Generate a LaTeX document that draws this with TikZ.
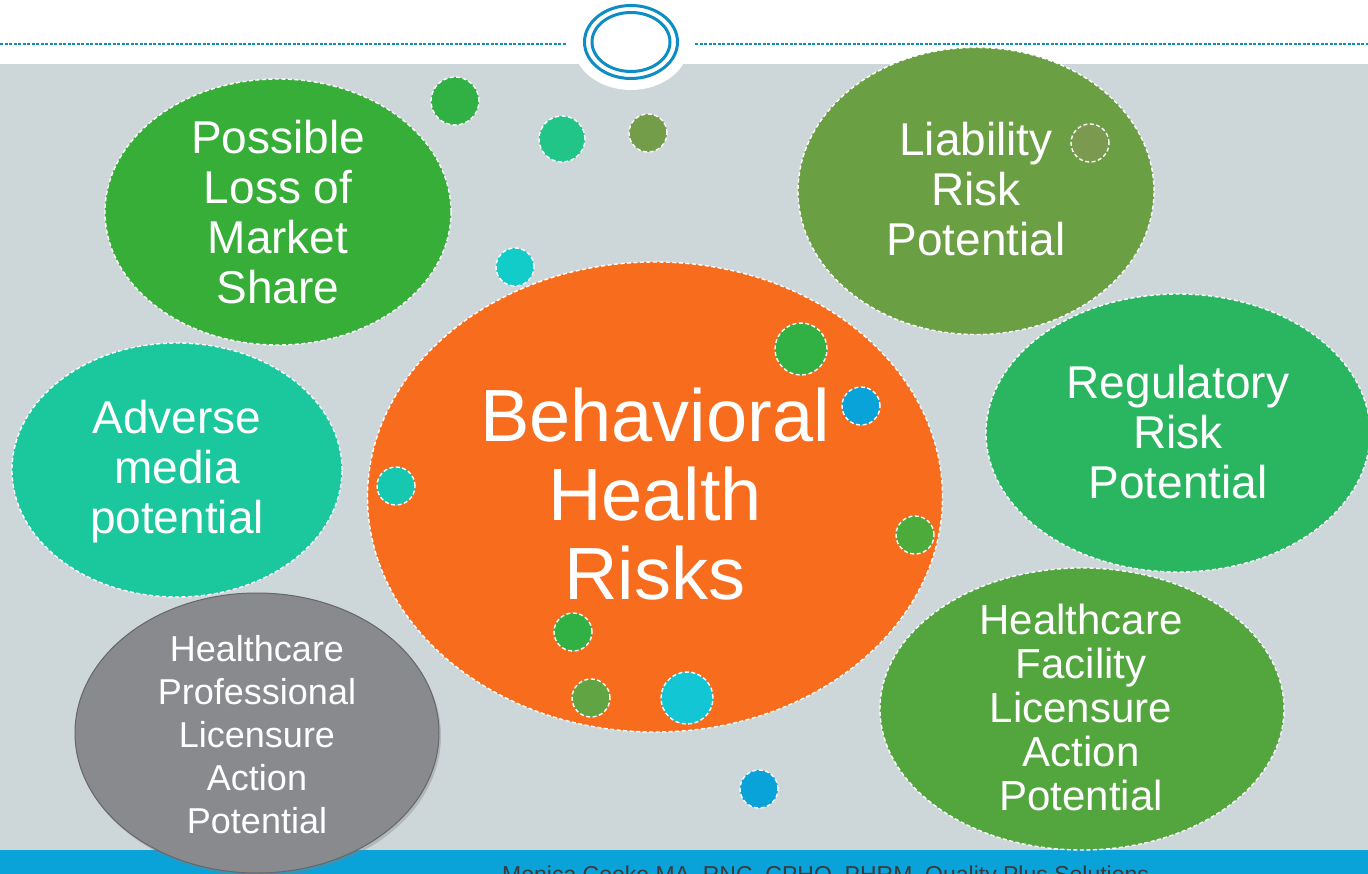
\documentclass[tikz,border=0pt]{standalone}
\usepackage{fontspec}
\setmainfont{Liberation Sans}
\usetikzlibrary{shapes.geometric,shadows}
\definecolor{bggray}{HTML}{CDD6D9}
\definecolor{bandblue}{HTML}{09A3DA}
\definecolor{logoblue}{HTML}{0E8DC4}
\definecolor{cPossible}{HTML}{36AE37}
\definecolor{cLiab}{HTML}{6A9F43}
\definecolor{cReg}{HTML}{2AB660}
\definecolor{cAdv}{HTML}{1BC79D}
\definecolor{cOrange}{HTML}{F76C1D}
\definecolor{cGray}{HTML}{898A8E}
\definecolor{cFac}{HTML}{53A63D}
\definecolor{dGreen}{HTML}{31B044}
\definecolor{dTeal}{HTML}{21C587}
\definecolor{dOlive}{HTML}{749D49}
\definecolor{dCyan}{HTML}{12CCC9}
\definecolor{dBlue}{HTML}{09A3D9}
\definecolor{dTeal2}{HTML}{17C8B0}
\definecolor{dGreen2}{HTML}{4CAB3A}
\definecolor{dGreen3}{HTML}{60A444}
\definecolor{dCyan2}{HTML}{12C7D3}
\definecolor{dOlive2}{HTML}{7B9A4F}
\definecolor{footgray}{HTML}{3A3A3A}
\tikzset{
  blob/.style={ellipse, draw=white, line width=1.4pt, dash pattern=on 4pt off 2.5pt, inner sep=0pt},
  dot/.style={circle, draw=white, line width=1.4pt, dash pattern=on 4pt off 2.5pt, inner sep=0pt},
  txtm/.style={text=white, align=center, font=\fontsize{46}{50}\selectfont},
  txtb/.style={text=white, align=center, font=\fontsize{74}{79}\selectfont},
  txts/.style={text=white, align=center, font=\fontsize{36}{43}\selectfont},
  txtf/.style={text=white, align=center, font=\fontsize{42}{44}\selectfont},
}
\begin{document}
\begin{tikzpicture}[x=1pt,y=-1pt]
\useasboundingbox (0,0) rectangle (1368,874);
\clip (0,0) rectangle (1368,874);
\fill[white] (0,0) rectangle (1368,874);
\fill[bggray] (0,64) rectangle (1368,850);
\fill[bandblue] (0,850) rectangle (1368,874);
% logo
\fill[white] (631,44) ellipse [x radius=58pt, y radius=46pt];
\draw[logoblue, line width=2pt, dash pattern=on 3pt off 1.5pt] (0,44) -- (567,44);
\draw[logoblue, line width=2pt, dash pattern=on 3pt off 1.5pt] (695,44) -- (1368,44);
\node[ellipse, draw=logoblue, line width=3pt, minimum width=93pt, minimum height=73pt, inner sep=0pt] (logoOuter) at (631,42) {};
\node[ellipse, draw=logoblue, line width=3pt, minimum width=78pt, minimum height=59pt, inner sep=0pt] (logoInner) at (631,42) {};
% big ellipses
\node[blob, fill=cPossible, minimum width=346pt, minimum height=266pt] (possible) at (278,212) {};
\node[blob, fill=cLiab, minimum width=356pt, minimum height=287pt] (liab) at (976,191) {};
\node[blob, fill=cReg, minimum width=384pt, minimum height=278pt] (reg) at (1178,433) {};
\node[blob, fill=cAdv, minimum width=330pt, minimum height=254pt] (adv) at (177,470) {};
\node[blob, fill=cOrange, minimum width=575pt, minimum height=470pt] (bhr) at (655,497) {};
\node[blob, fill=cFac, minimum width=404pt, minimum height=282pt] (fac) at (1082,709) {};
\node[ellipse, fill=cGray, draw=black!60, line width=1pt, inner sep=0pt, minimum width=364pt, minimum height=280pt,
      drop shadow={shadow xshift=2pt, shadow yshift=-3pt, opacity=0.35}] (prof) at (257,733) {};
% texts
\node[txtm] (tPossible) at (278,212) {Possible\\Loss of\\Market\\Share};
\node[txtm] (tLiab) at (976,189) {Liability\\Risk\\Potential};
\node[txtm] (tReg) at (1178,432) {Regulatory\\Risk\\Potential};
\node[txtm] (tAdv) at (177,472) {Adverse\\media\\potential};
\node[txtb] (tBhr) at (655,494) {Behavioral\\Health\\Risks};
\node[txts] (tProf) at (257,735) {Healthcare\\Professional\\Licensure\\Action\\Potential};
\node[txtf] (tFac) at (1081,707) {Healthcare\\Facility\\Licensure\\Action\\Potential};
% dots
\node[dot, fill=dGreen, minimum size=48pt] (d1) at (455,101) {};
\node[dot, fill=dTeal, minimum size=46pt] (d2) at (562,139) {};
\node[dot, fill=dOlive, minimum size=38pt] (d3) at (648,133) {};
\node[dot, fill=dCyan, minimum size=38pt] (d4) at (515,267) {};
\node[dot, fill=dGreen, minimum size=52pt] (d5) at (801,349) {};
\node[dot, fill=dBlue, minimum size=38pt] (d6) at (861,406) {};
\node[dot, fill=dTeal2, minimum size=38pt] (d7) at (396,486) {};
\node[dot, fill=dGreen2, minimum size=38pt] (d8) at (915,535) {};
\node[dot, fill=dGreen, minimum size=38pt] (d9) at (573,632) {};
\node[dot, fill=dGreen3, minimum size=38pt] (d10) at (591,698) {};
\node[dot, fill=dCyan2, minimum size=52pt] (d11) at (687,698) {};
\node[dot, fill=dBlue, minimum size=38pt] (d12) at (759,789) {};
\node[dot, fill=dOlive2, minimum size=38pt] (d13) at (1090,143) {};
% footer
\node[anchor=base west, text=footgray, inner sep=0pt, font=\fontsize{23}{26}\selectfont] (footer) at (502,882) {Monica Cooke MA, RNC, CPHQ, PHRM, Quality Plus Solutions};
\end{tikzpicture}
\end{document}
